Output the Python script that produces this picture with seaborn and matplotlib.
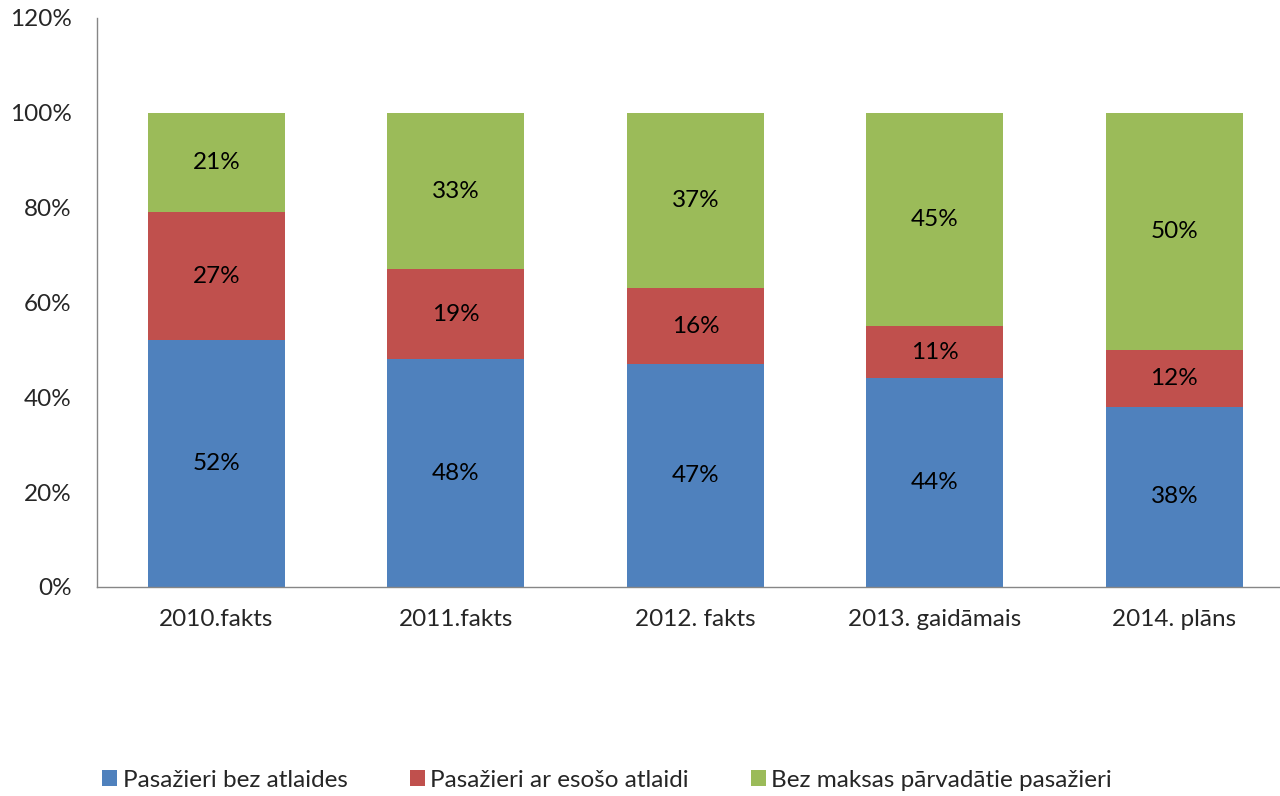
import matplotlib
matplotlib.use("Agg")
import matplotlib.pyplot as plt
import seaborn as sns
import pandas as pd
from matplotlib.patches import Patch

categories = ["2010.fakts", "2011.fakts", "2012. fakts", "2013. gaidāmais", "2014. plāns"]
bez_atlaides = [52, 48, 47, 44, 38]
ar_atlaidi = [27, 19, 16, 11, 12]
bez_maksas = [21, 33, 37, 45, 50]
series_names = ["Pasažieri bez atlaides", "Pasažieri ar esošo atlaidi", "Bez maksas pārvadātie pasažieri"]
colors = ["#4F81BD", "#C0504D", "#9BBB59"]
yticks = [0, 20, 40, 60, 80, 100, 120]

sns.set_theme(style="white")
plt.rcParams["font.family"] = ["Lato", "DejaVu Sans"]
FS = 17.5

fig = plt.figure(figsize=(12.8, 7.96), dpi=100)
ax = fig.add_axes([0.0756, 0.2626, 1.011 - 0.0756, 0.9774 - 0.2626])

series = [bez_atlaides, ar_atlaidi, bez_maksas]
bottom = [0] * len(categories)
for name, vals, col in zip(series_names, series, colors):
    df = pd.DataFrame({"cat": categories, "val": vals})
    sns.barplot(data=df, x="cat", y="val", order=categories, color=col,
                bottom=bottom, width=0.572, ax=ax, saturation=1, errorbar=None,
                linewidth=0)
    cont = ax.containers[-1]
    ax.bar_label(cont, labels=[f"{v}%" for v in vals], label_type="center",
                 fontsize=FS, color="black")
    bottom = [b + v for b, v in zip(bottom, vals)]

ax.set_xlim(-0.5, 4.5)
ax.set_ylim(0, 120)
ax.set_yticks(yticks)
ax.set_yticklabels([f"{t}%" for t in yticks], fontsize=FS)
ax.tick_params(axis="x", labelsize=FS, length=0, pad=16)
ax.tick_params(axis="y", length=0, pad=18)
ax.set_xlabel("")
ax.set_ylabel("")
for s in ["top", "right"]:
    ax.spines[s].set_visible(False)
for s in ["left", "bottom"]:
    ax.spines[s].set_color("#868686")
    ax.spines[s].set_linewidth(1)

handles = [Patch(facecolor=c, edgecolor="none") for c in colors]
fig.legend(handles, series_names, loc="center left", bbox_to_anchor=(0.080, 0.02),
           ncol=3, frameon=False, fontsize=FS, handlelength=0.62, handleheight=0.62,
           handletextpad=0.22, columnspacing=2.55, borderpad=0, borderaxespad=0)

fig.savefig("out.png", dpi=100)
